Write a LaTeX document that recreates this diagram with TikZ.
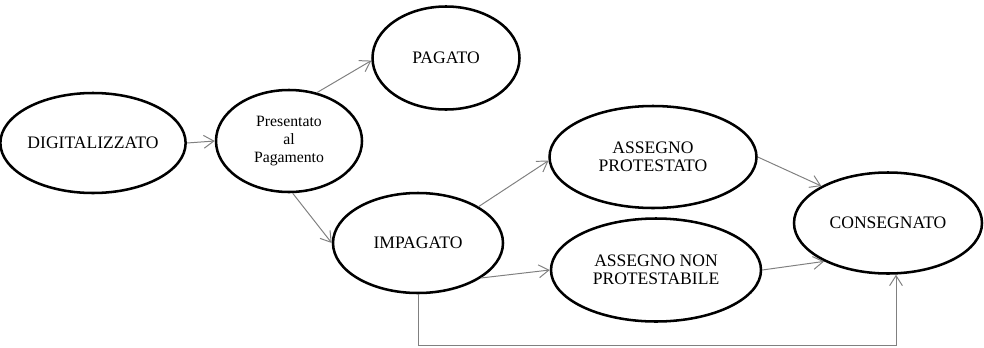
\documentclass[tikz,border=0pt]{standalone}
\usepackage{fontspec}
\setmainfont{Liberation Serif}
\usetikzlibrary{shapes.geometric,arrows.meta}

\begin{document}
\begin{tikzpicture}[
    stato/.style={ellipse, draw, line width=1.8pt, align=center,
      font=\fontsize{12.5}{12.8}\selectfont, inner sep=0pt},
    freccia/.style={-{Straight Barb[length=2.5mm,width=3.2mm]}, gray, line width=0.7pt}
  ]
      \useasboundingbox (0,0) rectangle (24.6,8.675);

      % States
      \node[stato, minimum width=4.5cm, minimum height=2.5cm] (dig) at (2.325,5.1) {DIGITALIZZATO};
      \node[stato, minimum width=3.65cm, minimum height=2.55cm, font=\fontsize{11.2}{12.6}\selectfont] (pres) at (7.225,5.15) {Presentato\\al\\Pagamento};
      \node[stato, minimum width=3.675cm, minimum height=2.575cm] (pag) at (11.15,7.225) {PAGATO};
      \node[stato, minimum width=4.25cm, minimum height=2.5cm] (imp) at (10.45,2.6) {IMPAGATO};
      \node[stato, minimum width=5.175cm, minimum height=2.55cm] (prot) at (16.325,4.75) {ASSEGNO\\PROTESTATO};
      \node[stato, minimum width=5.25cm, minimum height=2.575cm] (nonprot) at (16.4,1.925) {ASSEGNO NON\\PROTESTABILE};
      \node[stato, minimum width=4.7cm, minimum height=2.525cm] (cons) at (22.2,3.1) {CONSEGNATO};

      % Transitions
      \draw[freccia] (dig.east) -- (pres.west);
      \draw[freccia] (pres.60) -- (pag.182);
      \draw[freccia] (pres.274) -- (imp.west);
      \draw[freccia] (imp.31) -- (prot.182);
      \draw[freccia] (imp.-29) -- (nonprot.west);
      \draw[freccia] (prot.east) -- (cons.151);
      \draw[freccia] (nonprot.east) -- (cons.211);

      % Direct delivery from IMPAGATO
      \coordinate (basso) at (10.45,0.05);
      \draw[freccia] (imp.south) -- (basso) -| ([xshift=0.2cm]cons.south);
    \end{tikzpicture}
\end{document}
